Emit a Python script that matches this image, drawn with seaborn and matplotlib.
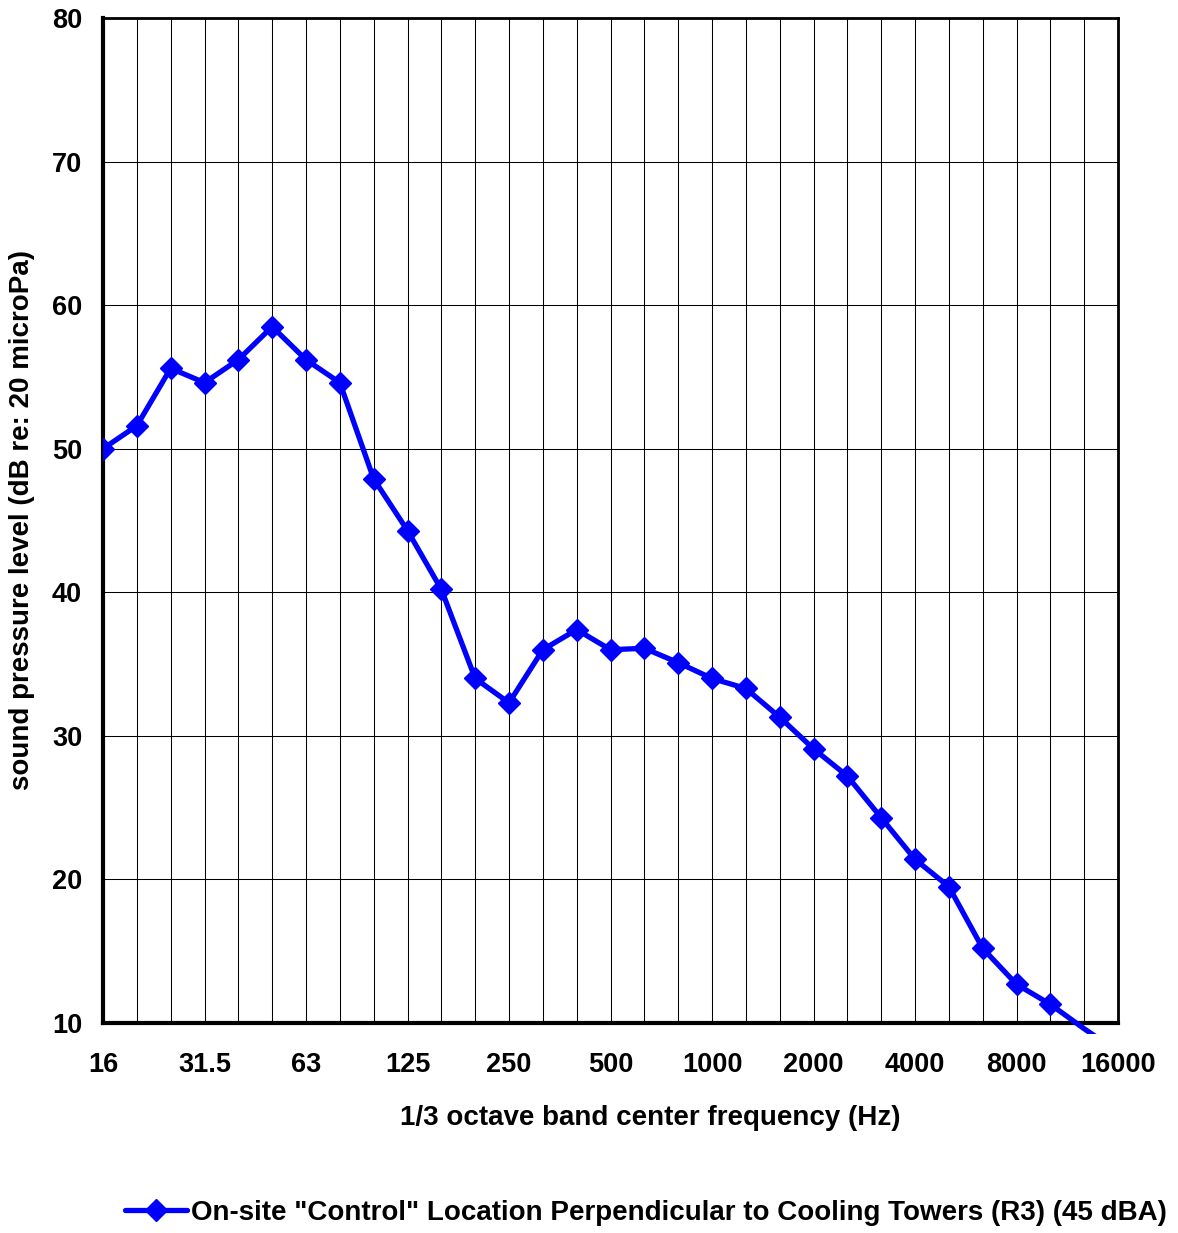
import numpy as np
import pandas as pd
import matplotlib
matplotlib.use("Agg")
import matplotlib.pyplot as plt
from matplotlib.patches import Rectangle
from matplotlib.ticker import MultipleLocator, FixedLocator
import seaborn as sns

bands = ["16", "20", "25", "31.5", "40", "50", "63", "80", "100", "125", "160",
         "200", "250", "315", "400", "500", "630", "800", "1000", "1250", "1600",
         "2000", "2500", "3150", "4000", "5000", "6300", "8000", "10000", "12500", "16000"]
levels = [50.0, 51.6, 55.6, 54.6, 56.2, 58.5, 56.2, 54.6, 47.9, 44.3, 40.2,
          34.0, 32.3, 36.0, 37.4, 36.0, 36.1, 35.1, 34.0, 33.3, 31.3,
          29.1, 27.2, 24.3, 21.4, 19.5, 15.2, 12.7, 11.3, 9.6, 8.0]
tick_labels = ["16", "31.5", "63", "125", "250", "500", "1000", "2000", "4000", "8000", "16000"]
series_name = 'On-site "Control" Location Perpendicular to Cooling Towers (R3) (45 dBA)'

sns.set_style("white")
plt.rcParams['font.family'] = ['Liberation Sans', 'DejaVu Sans']
plt.rcParams['font.weight'] = 'bold'
plt.rcParams['text.color'] = 'black'
plt.rcParams['axes.labelcolor'] = 'black'
plt.rcParams['xtick.color'] = 'black'
plt.rcParams['ytick.color'] = 'black'

df = pd.DataFrame({"pos": np.arange(len(bands)), "level": levels, "series": series_name})

fig = plt.figure(figsize=(11.78, 12.33), dpi=100)
ax = fig.add_axes([103/1178, 1 - 1023/1233, (1118-103)/1178, (1023-18)/1233])

ymin = 10
mask = [v >= ymin for v in levels]
sns.lineplot(data=df, x="pos", y="level", ax=ax, color="#0000FF", linewidth=3.8,
             marker="D", markersize=11, markeredgecolor="#0000FF", markeredgewidth=1,
             markevery=mask, legend=False, zorder=5)

line = ax.lines[0]
clip = Rectangle((0, -0.011), 1, 1.011, transform=ax.transAxes)
line.set_clip_path(clip)

ax.set_xlim(0, len(bands) - 1)
ax.set_ylim(10, 80)

ax.xaxis.set_major_locator(FixedLocator(np.arange(0, len(bands), 3)))
ax.set_xticklabels(tick_labels)
ax.xaxis.set_minor_locator(FixedLocator(np.arange(len(bands))))
ax.yaxis.set_major_locator(MultipleLocator(10))
ax.yaxis.set_minor_locator(MultipleLocator(1))

ax.grid(True, which="both", axis="x", color="black", linewidth=0.75)
ax.grid(True, which="major", axis="y", color="black", linewidth=0.75)
ax.set_axisbelow(True)

for side in ["left", "bottom"]:
    ax.spines[side].set_linewidth(3)
    ax.spines[side].set_color("black")
for side in ["top", "right"]:
    ax.spines[side].set_visible(True)
    ax.spines[side].set_linewidth(2)
    ax.spines[side].set_color("black")

ax.tick_params(axis="both", which="both", direction="out", color="black")
ax.tick_params(axis="y", which="major", length=7, width=3, labelsize=19.5, pad=8)
ax.tick_params(axis="y", which="minor", length=5, width=3)
ax.tick_params(axis="x", which="major", length=7, width=3, labelsize=19.5, pad=14)
ax.tick_params(axis="x", which="minor", length=7, width=3)
for lab in ax.get_xticklabels() + ax.get_yticklabels():
    lab.set_fontweight("bold")

ax.set_xlabel("1/3 octave band center frequency (Hz)", fontsize=20, fontweight="bold", labelpad=19)
ax.xaxis.label.set_x((650 - 103) / 1015)
ax.set_ylabel("sound pressure level (dB re: 20 microPa)", fontsize=20, fontweight="bold", labelpad=12)

handle = plt.Line2D([], [], color="#0000FF", linewidth=3.8, marker="D", markersize=11,
                    markeredgecolor="#0000FF")
fig.legend([handle], [series_name], loc="center", bbox_to_anchor=(646/1178, 1 - 1213/1233),
           frameon=False, handlelength=2.2, handletextpad=0.15, borderpad=0,
           prop={"family": ["Liberation Sans"], "weight": "bold", "size": 20})

fig.savefig("out.png", dpi=100)
